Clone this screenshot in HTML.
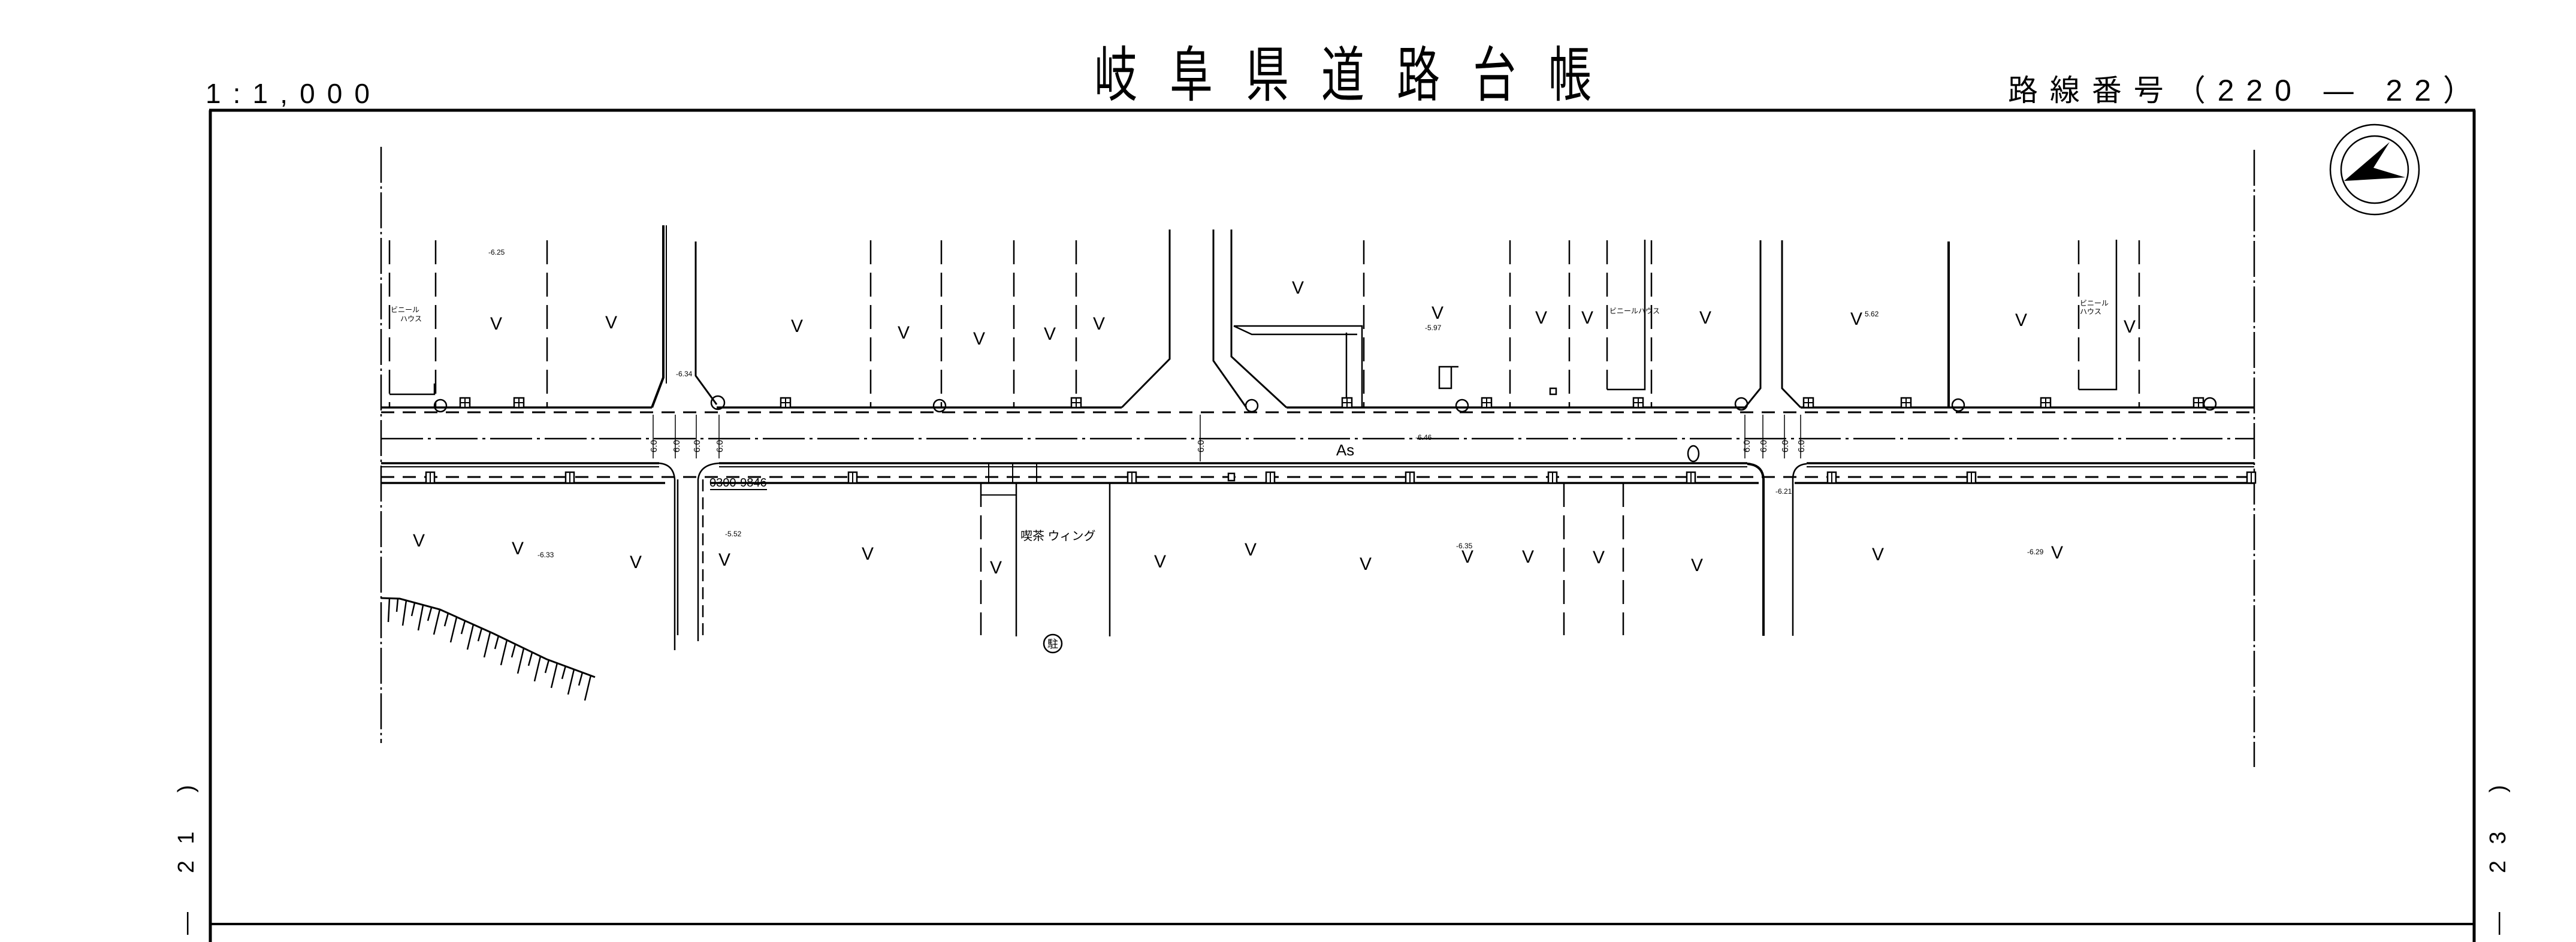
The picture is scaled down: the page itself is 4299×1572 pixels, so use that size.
<!DOCTYPE html>
<html><head><meta charset="utf-8"><style>
html,body{margin:0;padding:0;background:#fff;}
svg{display:block;}
text{font-family:"Liberation Sans","Noto Sans CJK JP",sans-serif;fill:#000;}
</style></head><body>
<svg width="4299" height="1572" viewBox="0 0 4299 1572" xmlns="http://www.w3.org/2000/svg">
<rect width="4299" height="1572" fill="#fff"/>
<g font-size="100">
<text transform="translate(1862,160) scale(0.72,1)" text-anchor="middle">岐</text>
<text transform="translate(1988,160) scale(0.72,1)" text-anchor="middle">阜</text>
<text transform="translate(2115,160) scale(0.72,1)" text-anchor="middle">県</text>
<text transform="translate(2241,160) scale(0.72,1)" text-anchor="middle">道</text>
<text transform="translate(2367,160) scale(0.72,1)" text-anchor="middle">路</text>
<text transform="translate(2494,160) scale(0.72,1)" text-anchor="middle">台</text>
<text transform="translate(2620,160) scale(0.72,1)" text-anchor="middle">帳</text>
</g>
<text x="343" y="172" font-size="46" textLength="274" lengthAdjust="spacing">1:1,000</text>
<text x="3351" y="168" font-size="50" textLength="776" lengthAdjust="spacing">路線番号（220 ― 22）</text>
<text transform="translate(323,1560) rotate(-90)" font-size="38" textLength="250" lengthAdjust="spacing">― 21 )</text>
<text transform="translate(4181,1560) rotate(-90)" font-size="38" textLength="250" lengthAdjust="spacing">― 23 )</text>
<g stroke="#000" fill="none">
<line x1="349" y1="184" x2="4131" y2="184" stroke-width="5"/>
<line x1="351" y1="184" x2="351" y2="1572" stroke-width="5"/>
<line x1="4129" y1="184" x2="4129" y2="1572" stroke-width="5"/>
<line x1="351" y1="1542" x2="4129" y2="1542" stroke-width="4"/>
</g>
<g stroke="#000" fill="none" stroke-width="2.5">
<ellipse cx="3963" cy="283" rx="74" ry="75"/>
<ellipse cx="3963" cy="283" rx="56" ry="56"/>
</g>
<polygon points="3988,237 3961,280 4014,296 3912,302" fill="#000"/>
<g stroke="#000" fill="none" stroke-width="2.5">
<line x1="636" y1="245" x2="636" y2="1240" stroke-dasharray="60,6,4,6"/>
<line x1="3762" y1="250" x2="3762" y2="1280" stroke-dasharray="60,6,4,6"/>
<path d="M636,680 H1088 M1196,680 H1872 M2147,680 H2912 M3005,680 H3762" stroke-width="3.5"/>
<path d="M636,688 H3762" stroke-dasharray="22,14" stroke-width="3"/>
<path d="M636,732 H3762" stroke-dasharray="70,8,5,8" stroke-width="2.5"/>
<path d="M636,773 H1100 M1200,773 H2916 M3015,773 H3762" stroke-width="3.5"/>
<path d="M636,779 H1100 M1200,779 H2916 M3015,779 H3762" stroke-width="2"/>
<path d="M636,796 H3762" stroke-dasharray="22,14" stroke-width="3"/>
<path d="M636,806 H1110 M1185,806 H2935 M2995,806 H3762" stroke-width="3.5"/>
<path d="M1107,376 V630 L1088,680" stroke-width="4"/>
<path d="M1112,376 V640" stroke-width="2"/>
<path d="M1161,403 V627 L1196,675" stroke-width="3"/>
<path d="M1100,773 Q1124,775 1126,800 V1085"/>
<path d="M1131,800 V1060"/>
<path d="M1200,773 Q1168,775 1165,800 V1070"/>
<path d="M1173,800 V1060" stroke-dasharray="20,10"/>
<path d="M1090,692 V765 M1127,692 V765 M1162,692 V765 M1200,692 V765" stroke-width="1.5"/>
<path d="M2912,692 V765 M2942,692 V765 M2978,692 V765 M3005,692 V765" stroke-width="1.5"/>
<path d="M2003,692 V770" stroke-width="1.5"/>
<path d="M1952,383 V599 L1872,680" stroke-width="3"/>
<path d="M2025,383 V602 L2080,680" stroke-width="3"/>
<path d="M2055,383 V595 L2147,680" stroke-width="3"/>
<path d="M2059,544 H2273 V680 M2247,555 V680 M2059,544 L2089,558 H2265" stroke-width="2.5"/>
<path d="M2938,401 V648 L2912,680" stroke-width="3"/>
<path d="M2974,401 V648 L3005,680" stroke-width="3"/>
<path d="M2916,774 Q2942,776 2943,800 V1061" stroke-width="4"/>
<path d="M3015,774 Q2992,776 2992,800 V1061" stroke-width="2.5"/>
<path d="M3252,403 V680" stroke-width="4"/>
<g stroke-dasharray="40,14" stroke-width="2.5">
<path d="M650,401 V680 M727,401 V680 M913,401 V680 M1453,401 V680 M1571,401 V680 M1692,401 V680 M1796,401 V680 M2276,401 V680 M2520,401 V680 M2619,401 V680 M2682,401 V650 M2756,401 V680 M3469,401 V650 M3570,401 V680"/>
<path d="M1637,806 V1060 M2610,806 V1060 M2709,806 V1060"/>
</g>
<path d="M650,658 H725 V640 M2682,650 H2745 V400 M3469,650 H3532 V400" stroke-width="2.5"/>
<path d="M1696,806 V1062 M1852,806 V1062" stroke-width="2.5"/>
<path d="M1650,773 V806 M1690,773 V806 M1730,773 V806 M1637,826 H1696" stroke-width="2"/>
<path d="M636,998 L667,999 L734,1017 L823,1057 L912,1100 L993,1130" stroke-width="3"/>
<path d="M650,998 l-2,40 M664,999 l-2,22 M678,1002 l-6,42 M692,1006 l-5,22 M706,1010 l-8,42 M720,1014 l-6,22 M734,1017 l-10,42 M748,1023 l-6,22 M762,1030 l-10,42 M776,1036 l-6,22 M790,1042 l-10,42 M804,1048 l-6,22 M818,1055 l-10,42 M832,1061 l-6,22 M846,1068 l-10,42 M860,1075 l-6,22 M874,1082 l-10,42 M888,1089 l-6,22 M902,1095 l-10,42 M916,1101 l-6,22 M930,1106 l-10,42 M944,1111 l-6,22 M958,1117 l-10,42 M972,1122 l-6,22 M986,1127 l-10,42" stroke-width="2.5"/>
<g stroke-width="2.5">
<circle cx="735" cy="677" r="10"/><circle cx="1198" cy="672" r="11"/><circle cx="1568" cy="677" r="10"/><circle cx="2089" cy="677" r="10"/><circle cx="2440" cy="677" r="10"/><circle cx="2906" cy="674" r="10"/><circle cx="3268" cy="676" r="10"/><circle cx="3688" cy="674" r="10"/>
<ellipse cx="2826" cy="757" rx="9" ry="13"/>
<circle cx="1757" cy="1074" r="15"/>
<path d="M2402,612 h20 v36 h-20 z M2422,612 h12"/>
</g>
</g>
<g fill="#fff" stroke="#000" stroke-width="2.5">
<path d="M768,664h16v16h-16z M858,664h16v16h-16z M1303,664h16v16h-16z M1788,664h16v16h-16z M2240,664h16v16h-16z M2473,664h16v16h-16z M2726,664h16v16h-16z M3173,664h16v16h-16z M3406,664h16v16h-16z M3661,664h16v16h-16z M3010,664h16v16h-16z"/>
<path d="M711,788h14v18h-14z M944,788h14v18h-14z M1416,788h14v18h-14z M1882,788h14v18h-14z M2113,788h14v18h-14z M2346,788h14v18h-14z M2584,788h14v18h-14z M2815,788h14v18h-14z M3050,788h14v18h-14z M3283,788h14v18h-14z M3750,788h14v18h-14z M2050,790h10v12h-10z"/>
<path d="M2587,648h10v10h-10z"/>
</g>
<g stroke="#000" stroke-width="2" fill="none">
<path d="M776,664v16 M768,672h16 M866,664v16 M858,672h16 M1311,664v16 M1303,672h16 M1796,664v16 M1788,672h16 M2248,664v16 M2240,672h16 M2481,664v16 M2473,672h16 M2734,664v16 M2726,672h16 M3181,664v16 M3173,672h16 M3414,664v16 M3406,672h16 M3669,664v16 M3661,672h16 M3018,664v16 M3010,672h16"/>
<path d="M718,788v18 M951,788v18 M1423,788v18 M1889,788v18 M2120,788v18 M2353,788v18 M2591,788v18 M2822,788v18 M3057,788v18 M3290,788v18 M3757,788v18"/>
</g>
<g font-size="30" text-anchor="middle">
<text x="828" y="550">V</text><text x="1020" y="548">V</text><text x="1330" y="554">V</text><text x="1508" y="565">V</text><text x="1634" y="575">V</text><text x="1752" y="567">V</text><text x="1834" y="550">V</text><text x="2166" y="490">V</text><text x="2399" y="532">V</text><text x="2572" y="540">V</text><text x="2649" y="540">V</text><text x="2846" y="540">V</text><text x="3098" y="542">V</text><text x="3373" y="544">V</text><text x="3554" y="555">V</text>
<text x="699" y="912">V</text><text x="864" y="925">V</text><text x="1061" y="948">V</text><text x="1209" y="944">V</text><text x="1448" y="934">V</text><text x="1662" y="957">V</text><text x="1936" y="947">V</text><text x="2087" y="927">V</text><text x="2279" y="951">V</text><text x="2449" y="939">V</text><text x="2550" y="939">V</text><text x="2668" y="940">V</text><text x="2832" y="953">V</text><text x="3134" y="935">V</text><text x="3433" y="932">V</text>
</g>
<g font-size="12">
<text x="815" y="425">-6.25</text><text x="1128" y="628">-6.34</text><text x="2378" y="551">-5.97</text><text x="3112" y="528">5.62</text><text x="2430" y="915">-6.35</text><text x="3383" y="925">-6.29</text><text x="897" y="930">-6.33</text><text x="1210" y="895">-5.52</text><text x="2963" y="824">-6.21</text><text x="2362" y="734">-6.46</text>
<text x="652" y="521">ビニール</text><text x="668" y="536">ハウス</text>
<text x="2686" y="523">ビニールハウス</text><text x="3471" y="510">ビニール</text><text x="3471" y="524">ハウス</text>
</g>
<text x="2245" y="760" font-size="26" text-anchor="middle">As</text>
<text x="1184" y="812" font-size="20">0300-9846</text>
<line x1="1185" y1="817" x2="1280" y2="817" stroke="#000" stroke-width="2"/>
<text x="1703" y="901" font-size="20">喫茶 ウィング</text>
<text x="1757" y="1081" font-size="18" text-anchor="middle">駐</text>
<g font-size="15">
<text transform="translate(1096,755) rotate(-90)">6.0</text><text transform="translate(1134,755) rotate(-90)">6.0</text><text transform="translate(1168,755) rotate(-90)">6.0</text><text transform="translate(1206,755) rotate(-90)">6.0</text>
<text transform="translate(2009,755) rotate(-90)">6.0</text>
<text transform="translate(2920,755) rotate(-90)">6.0</text><text transform="translate(2948,755) rotate(-90)">6.0</text><text transform="translate(2984,755) rotate(-90)">6.0</text><text transform="translate(3011,755) rotate(-90)">6.0</text>
</g>
</svg>
</body></html>
